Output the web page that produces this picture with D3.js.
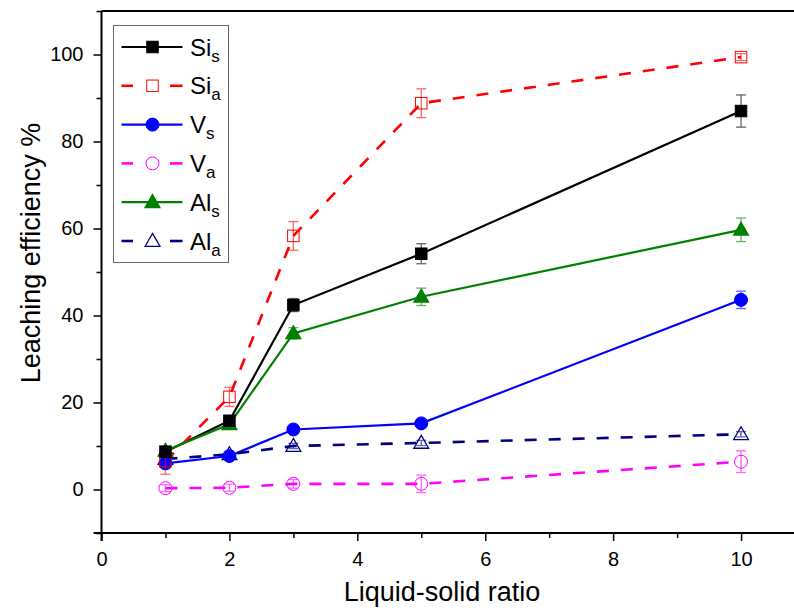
<!DOCTYPE html>
<html><head><meta charset="utf-8">
<script src="https://cdn.jsdelivr.net/npm/d3@7"></script>
<style>body{margin:0;background:#fff}svg{font-family:Arial,"Liberation Sans",sans-serif}</style>
</head><body><svg id="c" width="794" height="610"></svg>
<script>
const xValues = [1, 2, 3, 5, 10];
const siS = [8.7, 15.8, 42.4, 54.2, 87.0];
const siSErr = [1.0, 1.0, 1.5, 2.3, 3.7];
const siA = [6.5, 21.3, 58.3, 88.8, 99.4];
const siAErr = [3.0, 2.2, 3.3, 3.3, 0.8];
const vS = [6.0, 7.7, 13.8, 15.2, 43.6];
const vSErr = [1.0, 0.6, 0.6, 0.6, 2.0];
const vA = [0.3, 0.4, 1.3, 1.3, 6.4];
const vAErr = [0.8, 0.8, 1.0, 2.0, 2.5];
const alS = [8.9, 15.0, 35.9, 44.3, 59.7];
const alSErr = [0.8, 0.8, 1.3, 2.0, 2.7];
const alA = [7.0, 8.1, 10.0, 10.7, 12.7];
const alAErr = [0.6, 0.6, 0.6, 0.6, 0.6];
const xTicks = [0, 2, 4, 6, 8, 10];
const yTicks = [0, 20, 40, 60, 80, 100];

const series = [
  {name:"Si", sub:"s", vals:siS, err:siSErr, color:"#000000", dash:null, marker:"square", fill:true},
  {name:"Si", sub:"a", vals:siA, err:siAErr, color:"#ff0000", dash:"12,12", marker:"square", fill:false},
  {name:"V", sub:"s", vals:vS, err:vSErr, color:"#0000ff", dash:null, marker:"circle", fill:true},
  {name:"V", sub:"a", vals:vA, err:vAErr, color:"#ff00ff", dash:"12,12", marker:"circle", fill:false},
  {name:"Al", sub:"s", vals:alS, err:alSErr, color:"#008000", dash:null, marker:"triangle", fill:true},
  {name:"Al", sub:"a", vals:alA, err:alAErr, color:"#000080", dash:"12,12", marker:"triangle", fill:false}
];

const svg = d3.select("#c");
const L = 101.5, R = 805, T = 11, B = 533;
const x = d3.scaleLinear().domain([0, 11]).range([L, R]);
const y = d3.scaleLinear().domain([-10, 110]).range([B, T]);

svg.append("line").attr("x1",L).attr("x2",800).attr("y1",T).attr("y2",T).attr("stroke","#000").attr("stroke-width",2);

const xAxisMinor = d3.axisBottom(x).tickValues(d3.range(1, 11, 2)).tickSize(5).tickFormat("");
const xAxis = d3.axisBottom(x).tickValues(xTicks).tickSize(8).tickPadding(11).tickFormat(d3.format("d"));
const yAxisMinor = d3.axisLeft(y).tickValues(d3.range(-10, 111, 20)).tickSize(5).tickFormat("");
const yAxis = d3.axisLeft(y).tickValues(yTicks).tickSize(8).tickPadding(10).tickFormat(d3.format("d"));

function style(g){
  g.select(".domain").attr("stroke-width",2).attr("stroke","#000");
  g.selectAll(".tick line").attr("stroke-width",1.5).attr("stroke","#000");
  g.selectAll(".tick text").attr("font-size",20).attr("fill","#000").attr("font-family","Arial, 'Liberation Sans', sans-serif");
}
svg.append("g").attr("transform",`translate(0,${B})`).call(xAxisMinor).call(style).select(".domain").remove();
svg.append("g").attr("transform",`translate(${L},0)`).call(yAxisMinor).call(style).select(".domain").remove();
svg.append("g").attr("transform",`translate(0,${B})`).call(xAxis).call(style)
  .select(".domain").attr("d",`M${L},8V0H800`);
svg.append("g").attr("transform",`translate(${L},0)`).call(yAxis).call(style)
  .select(".domain").attr("d",`M-8,${B}H0V${T}`);

svg.append("text").attr("x",442).attr("y",601).attr("text-anchor","middle").attr("font-size",27).text("Liquid-solid ratio");
svg.append("text").attr("transform",`translate(40,253) rotate(-90)`).attr("text-anchor","middle").attr("font-size",27).text("Leaching efficiency %");

function drawMarker(g, s, cx, cy){
  if (s.marker === "square") {
    const a = 11.5;
    g.append("rect").attr("x",cx-a/2).attr("y",cy-a/2).attr("width",a).attr("height",a)
      .attr("fill",s.fill?s.color:"none").attr("stroke",s.color).attr("stroke-width",1);
  } else if (s.marker === "circle") {
    g.append("circle").attr("cx",cx).attr("cy",cy).attr("r",6.5)
      .attr("fill",s.fill?s.color:"none").attr("stroke",s.color).attr("stroke-width",1);
  } else {
    const sym = d3.symbol().type(d3.symbolTriangle).size(95);
    g.append("path").attr("d",sym()).attr("transform",`translate(${cx},${cy+1})`)
      .attr("fill",s.fill?s.color:"none").attr("stroke",s.color).attr("stroke-width",1.3);
  }
}

const line = d3.line().x((d,i)=>x(xValues[i])).y(d=>y(d));
series.forEach(s=>{
  svg.append("path").datum(s.vals).attr("d",line).attr("fill","none")
    .attr("stroke",s.color).attr("stroke-width",s.dash?2.6:2.2).attr("stroke-dasharray",s.dash);
});
series.slice().reverse().forEach(s=>{
  const g = svg.append("g");
  s.vals.forEach((v,i)=>{
    const cx = x(xValues[i]);
    const y1 = y(v - s.err[i]), y2 = y(v + s.err[i]);
    const eg = g.append("g").attr("stroke",s.color).attr("stroke-width",1.3).attr("opacity",0.6);
    eg.append("line").attr("x1",cx).attr("x2",cx).attr("y1",y1).attr("y2",y2);
    eg.append("line").attr("x1",cx-5).attr("x2",cx+5).attr("y1",y1).attr("y2",y1);
    eg.append("line").attr("x1",cx-5).attr("x2",cx+5).attr("y1",y2).attr("y2",y2);
    drawMarker(g, s, cx, y(v));
  });
});

const lg = svg.append("g");
lg.append("rect").attr("x",113.5).attr("y",25.5).attr("width",115).attr("height",237)
  .attr("fill","#fff").attr("stroke","#666").attr("stroke-width",1);
series.forEach((s,i)=>{
  const cy = 47 + i*38.8;
  if (s.dash) {
    lg.append("line").attr("x1",121.5).attr("x2",133).attr("y1",cy).attr("y2",cy).attr("stroke",s.color).attr("stroke-width",2.6);
    lg.append("line").attr("x1",170).attr("x2",182.5).attr("y1",cy).attr("y2",cy).attr("stroke",s.color).attr("stroke-width",2.6);
  } else {
    lg.append("line").attr("x1",121.5).attr("x2",182.5).attr("y1",cy).attr("y2",cy).attr("stroke",s.color).attr("stroke-width",2.2);
  }
  drawMarker(lg, s, 152.5, cy);
  const t = lg.append("text").attr("x",190).attr("y",cy+8.5).attr("font-size",24).text(s.name);
  t.append("tspan").attr("dy",6).attr("font-size",17).text(s.sub);
});
</script></body></html>
